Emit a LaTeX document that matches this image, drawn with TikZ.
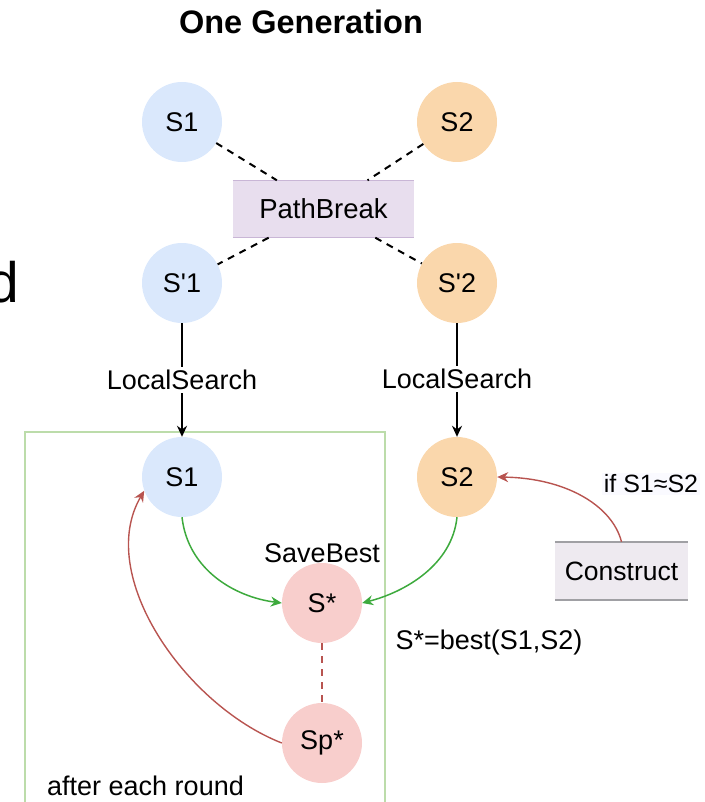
\documentclass[tikz,border=0pt]{standalone}
\usepackage{fontspec}
\setmainfont{Liberation Sans}[Ligatures=TeXOff]
\usetikzlibrary{arrows.meta}
\definecolor{cblue}{HTML}{DAE8FC}
\definecolor{corange}{HTML}{FAD7AC}
\definecolor{cpink}{HTML}{F8CECC}
\definecolor{cpurple}{HTML}{E8DEEE}
\definecolor{cpurpleline}{HTML}{C9B6D6}
\definecolor{cconst}{HTML}{EEEAF0}
\definecolor{cconstline}{HTML}{A0A0A4}
\definecolor{cgreenbox}{HTML}{BCDCAA}
\definecolor{cgreen}{HTML}{3DAA3D}
\definecolor{cred}{HTML}{B85450}
\tikzset{
  txt/.style={font=\fontsize{27}{32}\selectfont, inner sep=2pt},
  solnode/.style={circle, minimum size=80pt, inner sep=0pt, font=\fontsize{27}{32}\selectfont},
  blk/.style={line width=1.8pt, -{Stealth[length=11pt,width=10pt]}},
  dsh/.style={line width=2pt, dash pattern=on 7pt off 6pt},
  grn/.style={line width=1.5pt, draw=cgreen, -{Stealth[length=11pt,width=10pt]}},
  rd/.style={line width=1.4pt, draw=cred, -{Stealth[length=11pt,width=10pt]}, color=cred},
}
\begin{document}
\begin{tikzpicture}[x=1pt,y=-1pt]
\useasboundingbox (0,0) rectangle (704,802);
% title
\node[font=\fontsize{32.5}{36}\selectfont\bfseries] (title) at (301,22) {One Generation};
% stray letter at left edge
\node[anchor=base east, inner sep=0pt, font=\fontsize{57}{60}\selectfont] (dd) at (19,302) {d};
% green box
\draw[cgreenbox, line width=1.3pt] (25,815) -- (25,432) -- (385,432) -- (385,815);
% nodes
\node[solnode, fill=cblue] (s1a) at (182,122) {S1};
\node[solnode, fill=corange] (s2a) at (457,122) {S2};
\node[fill=cpurple, minimum width=181pt, minimum height=57pt, inner sep=0pt, font=\fontsize{27.5}{32}\selectfont] (pb) at (323.5,209) {PathBreak};
\draw[cpurpleline, line width=1.5pt] (pb.north west) -- (pb.north east) (pb.south west) -- (pb.south east);
\node[solnode, fill=cblue] (sp1) at (182,283) {S'1};
\node[solnode, fill=corange] (sp2) at (457,283) {S'2};
\node[solnode, fill=cblue] (s1b) at (182,477) {S1};
\node[solnode, fill=corange] (s2b) at (457,477) {S2};
\node[solnode, fill=cpink] (sst) at (322,603) {S*};
\node[solnode, fill=cpink] (spst) at (322,743) {Sp*};
\node[fill=cconst, minimum width=133pt, minimum height=58pt, inner sep=0pt, font=\fontsize{26.5}{32}\selectfont] (cons) at (621.5,571) {Construct};
\draw[cconstline, line width=1.5pt] (cons.north west) -- (cons.north east) (cons.south west) -- (cons.south east);
% labels
\node[txt] (savebest) at (322,553) {SaveBest};
\node[txt] (best) at (489,643) {S*=best(S1,S2)};
\node[txt, fill=blue!2, font=\fontsize{25}{30}\selectfont] (ifs) at (651,484) {if S1≈S2};
\node[txt, anchor=west] (after) at (45,786) {after each round};
% dashed PathBreak links
\draw[dsh] (s1a) -- (pb);
\draw[dsh] (s2a) -- (pb);
\draw[dsh] (pb) -- (sp1);
\draw[dsh] (pb) -- (sp2);
% local search
\draw[blk] (sp1) -- node[txt, fill=white, inner sep=3pt] (ls1) {LocalSearch} (s1b);
\draw[blk] (sp2) -- node[txt, fill=white, inner sep=3pt, pos=0.49] (ls2) {LocalSearch} (s2b);
% save best
\draw[grn] (s1b.south) .. controls (188,570) and (235,597) .. (sst.west);
\draw[grn] (s2b.south) .. controls (452,565) and (405,592) .. (sst.east);
% dashed link S* - Sp*
\draw[dsh, cred, line width=1.4pt] (sst) -- (spst);
% back arrow
\draw[rd] (spst.west) .. controls (185,705) and (95,575) .. (s1b.200);
% construct arrow
\draw[rd] (cons.north) .. controls (612,505) and (565,478) .. (s2b.east);
\end{tikzpicture}
\end{document}
